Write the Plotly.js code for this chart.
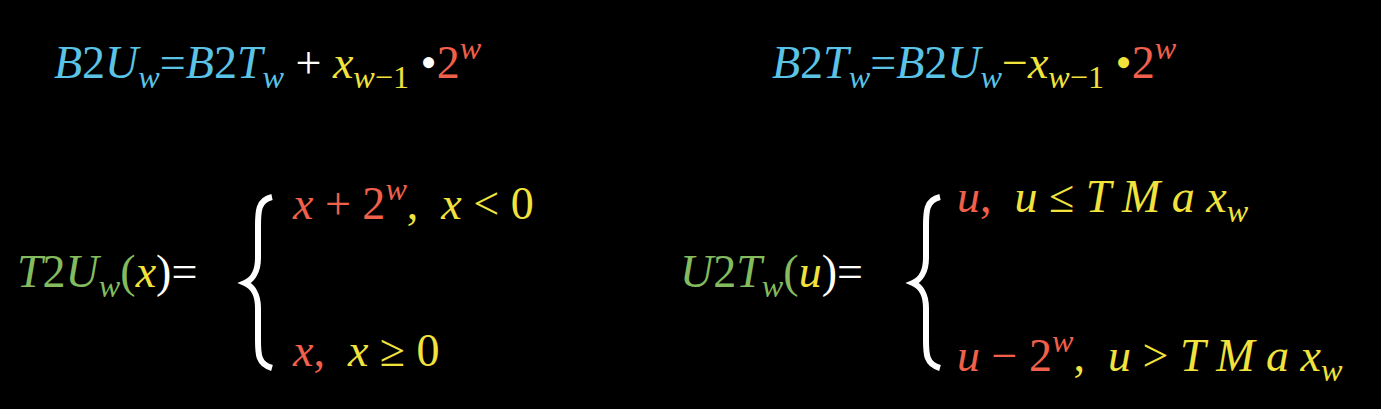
<!DOCTYPE html>
<html><head><script src="https://cdn.plot.ly/plotly-3.0.1.min.js"></script>
<style>body{margin:0;background:#000}</style></head><body>
<div id="c" style="width:1381px;height:409px"></div>
<script>
const B='#5bc3e6',Y='#f2e33c',R='#f0604a',G='#83bb5e',W='#ffffff';
function s(c,t){return '<span style="color:'+c+'">'+t+'</span>';}
const formulas=[
 {x:52,y:62,t:s(B,'<i>B</i>2<i>U</i><sub><i>w</i></sub>')+s(B,'=')+s(B,'<i>B</i>2<i>T</i><sub><i>w</i></sub>')+s(W,' + ')+s(Y,'<i>x</i><sub><i>w</i>−1</sub>')+s(W,' •')+s(R,'2<sup><i>w</i></sup>')},
 {x:770,y:62,t:s(B,'<i>B</i>2<i>T</i><sub><i>w</i></sub>=<i>B</i>2<i>U</i><sub><i>w</i></sub>')+s(Y,'−<i>x</i><sub><i>w</i>−1</sub> •')+s(R,'2<sup><i>w</i></sup>')},
 {x:15,y:275,t:s(G,'<i>T</i>2<i>U</i><sub><i>w</i></sub>(')+s(Y,'<i>x</i>')+s(W,')=')},
 {x:290,y:200,t:s(R,'<i>x</i> + 2<sup><i>w</i></sup>')+s(Y,',  <i>x</i> &lt; 0')},
 {x:290,y:350,t:s(R,'<i>x</i>,')+s(Y,'  <i>x</i> ≥ 0')},
 {x:678,y:275,t:s(G,'<i>U</i>2<i>T</i><sub><i>w</i></sub>(')+s(Y,'<i>u</i>')+s(W,')=')},
 {x:955,y:200,t:s(R,'<i>u</i>,')+s(Y,'  <i>u</i> ≤ <i>T M a x</i><sub><i>w</i></sub>')},
 {x:955,y:355,t:s(R,'<i>u</i> − 2<sup><i>w</i></sup>')+s(Y,',  <i>u</i> &gt; <i>T M a x</i><sub><i>w</i></sub>')}
];
const braceX=[272,940];
const ann=formulas.map(f=>({x:f.x,y:f.y,xref:'x',yref:'y',xanchor:'left',yanchor:'middle',showarrow:false,text:f.t,font:{family:'Liberation Serif, serif',size:46,color:W}}));
const shapes=braceX.map(x=>({type:'path',xref:'x',yref:'y',line:{color:W,width:6},
 path:`M${x},197 C${x-14},200 ${x-14},212 ${x-14},226 L${x-14},258 C${x-14},272 ${x-20},280 ${x-27},283 C${x-20},286 ${x-14},294 ${x-14},308 L${x-14},340 C${x-14},354 ${x-14},364 ${x},368`}));
Plotly.newPlot('c',[],{width:1381,height:409,paper_bgcolor:'#000',plot_bgcolor:'#000',margin:{l:0,r:0,t:0,b:0},
xaxis:{range:[0,1381],visible:false},yaxis:{range:[409,0],visible:false},annotations:ann,shapes:shapes,showlegend:false},{displayModeBar:false});
</script></body></html>
